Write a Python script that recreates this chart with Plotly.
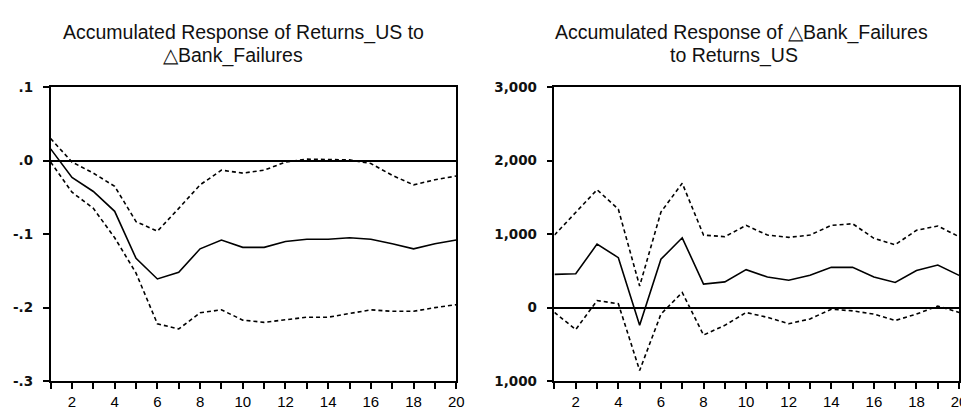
import plotly.graph_objects as go

periods = list(range(1, 21))

# Left panel: Accumulated Response of Returns_US to dBank_Failures
left_resp = [0.016, -0.023, -0.042, -0.069, -0.133, -0.161, -0.152, -0.120, -0.108, -0.118,
             -0.118, -0.110, -0.107, -0.107, -0.105, -0.107, -0.113, -0.120, -0.113, -0.108]
left_upper = [0.030, -0.002, -0.017, -0.035, -0.083, -0.096, -0.065, -0.033, -0.013, -0.017,
              -0.013, -0.002, 0.002, 0.002, 0.001, -0.004, -0.020, -0.033, -0.026, -0.021]
left_lower = [-0.002, -0.043, -0.065, -0.105, -0.153, -0.222, -0.229, -0.207, -0.203, -0.217,
              -0.220, -0.216, -0.213, -0.213, -0.208, -0.203, -0.205, -0.205, -0.200, -0.196]

# Right panel: Accumulated Response of dBank_Failures to Returns_US
right_resp = [452, 460, 864, 680, -241, 658, 950, 320, 350, 517,
              417, 373, 439, 548, 548, 417, 342, 504, 579, 439]
right_upper = [987, 1295, 1604, 1339, 294, 1300, 1692, 987, 965, 1119,
               987, 956, 987, 1119, 1141, 943, 855, 1053, 1110, 965]
right_lower = [-66, -298, 96, 53, -855, -88, 206, -373, -241, -66,
               -132, -219, -154, -22, -44, -88, -175, -88, 22, -66]

left_title_lines = ["Accumulated Response of Returns_US to", "\u25b3Bank_Failures"]
right_title_lines = ["Accumulated Response of \u25b3Bank_Failures", "to Returns_US"]

left_yticks = [0.1, 0.0, -0.1, -0.2, -0.3]
left_yticktext = [".1", ".0", "-.1", "-.2", "-.3"]
right_yticks = [3000, 2000, 1000, 0, -1000]
right_yticktext = ["3,000", "2,000", "1,000", "0", "1,000"]
xticktext = [str(p) if p % 2 == 0 else "" for p in periods]

fig = go.Figure()
dash = "4px,3px"
for xa, ya, resp, up, lo in [("x", "y", left_resp, left_upper, left_lower),
                             ("x2", "y2", right_resp, right_upper, right_lower)]:
    fig.add_trace(go.Scatter(x=periods, y=up, xaxis=xa, yaxis=ya, mode="lines",
                             line=dict(color="black", width=1.6, dash=dash), showlegend=False))
    fig.add_trace(go.Scatter(x=periods, y=resp, xaxis=xa, yaxis=ya, mode="lines",
                             line=dict(color="black", width=1.6), showlegend=False))
    fig.add_trace(go.Scatter(x=periods, y=lo, xaxis=xa, yaxis=ya, mode="lines",
                             line=dict(color="black", width=1.6, dash=dash), showlegend=False))

xfont = dict(family="Liberation Sans, Arial, sans-serif", size=15, color="black")
yfont = dict(family="DejaVu Sans", size=13.5, color="#111", weight="bold")
title_font = dict(family="Liberation Sans, Arial, sans-serif", size=19.5, color="#111")

axis_common = dict(showline=True, mirror=True, linecolor="black", linewidth=1.6,
                   ticks="outside", ticklen=6, tickwidth=1.6, tickcolor="black",
                   showgrid=False)

ytop = 1 - 74 / 409
ybot = 1 - 380 / 409

fig.update_layout(
    width=969, height=409,
    margin=dict(l=0, r=0, t=0, b=0),
    paper_bgcolor="white", plot_bgcolor="white",
    xaxis=dict(domain=[43 / 969, 452 / 969], range=[1, 20], tickvals=periods,
               ticktext=xticktext, anchor="y", zeroline=False, tickfont=xfont,
               ticklabelstandoff=0, **axis_common),
    yaxis=dict(domain=[ybot, ytop], range=[-0.3, 0.1], tickvals=left_yticks,
               ticktext=left_yticktext, anchor="x", zeroline=True, tickfont=yfont,
               ticklabelstandoff=7,
               zerolinecolor="black", zerolinewidth=1.6, **axis_common),
    xaxis2=dict(domain=[551 / 969, 959 / 969], range=[1, 20], tickvals=periods,
                ticktext=xticktext, anchor="y2", zeroline=False, tickfont=xfont,
                ticklabelstandoff=0, **axis_common),
    yaxis2=dict(domain=[ybot, ytop], range=[-1000, 3000], tickvals=right_yticks,
                ticktext=right_yticktext, anchor="x2", zeroline=True, tickfont=yfont,
                ticklabelstandoff=7,
                zerolinecolor="black", zerolinewidth=1.6, **axis_common),
)

title_pos = [(left_title_lines[0], 237, 17), (left_title_lines[1], 227, 41),
             (right_title_lines[0], 740, 17), (right_title_lines[1], 732, 41)]
for txt, px, py in title_pos:
    fig.add_annotation(text=txt, x=px / 969, y=1 - py / 409, xref="paper", yref="paper",
                       xanchor="center", yanchor="middle", showarrow=False, font=title_font)

fig.write_html("out.html")
